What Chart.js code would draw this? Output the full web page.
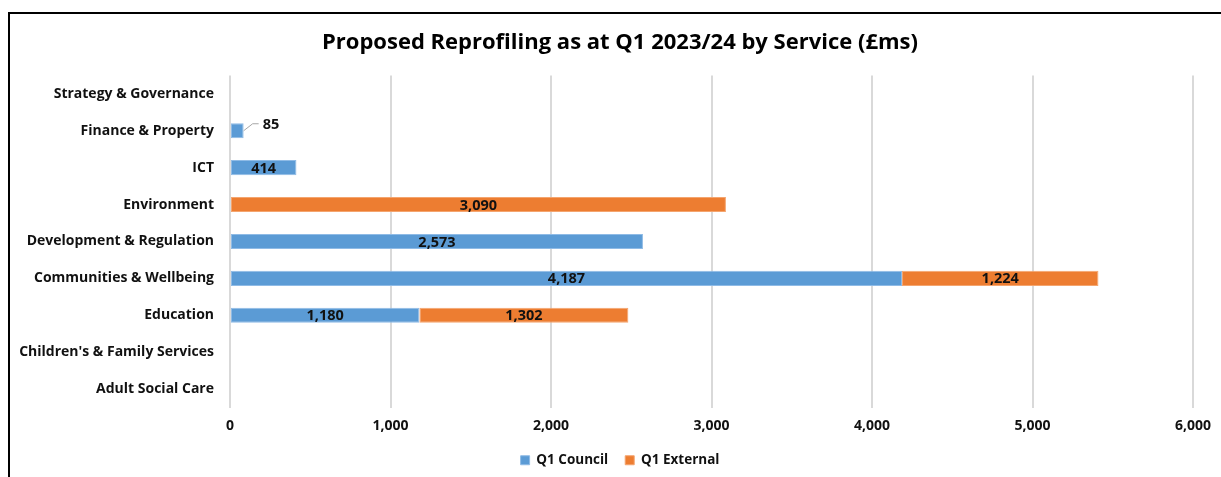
<!DOCTYPE html>
<html>
<head>
<meta charset="utf-8">
<script src="https://cdn.jsdelivr.net/npm/chart.js@4.4.0/dist/chart.umd.min.js"></script>
<style>
  body { margin: 0; background: #fff; overflow: hidden; }
  #frame {
    position: absolute; left: 8px; top: 12px;
    width: 1222px; height: 465px;
    border-left: 2px solid #000; border-top: 2px solid #000;
  }
  #wrap { position: relative; width: 1220px; height: 463px; }
</style>
</head>
<body>
<div id="frame"><div id="wrap"><canvas id="reprofileChart"></canvas></div></div>
<script>
// 서비스 항목 (위에서 아래 순서)
var services = ['Strategy & Governance', 'Finance & Property', 'ICT', 'Environment',
    'Development & Regulation', 'Communities & Wellbeing', 'Education',
    "Children's & Family Services", 'Adult Social Care'];
var councilValues = [0, 85, 414, 0, 2573, 4187, 1180, 0, 0];
var externalValues = [0, 0, 0, 3090, 0, 1224, 1302, 0, 0];
var xTicks = [0, 1000, 2000, 3000, 4000, 5000, 6000];

var fontName = '"Open Sans", Lato, sans-serif';

// 막대 위에 값 표시 (작은 막대는 바깥쪽에 선과 함께)
var valueLabels = {
    id: 'valueLabels',
    afterDatasetsDraw: function(chart) {
        var ctx = chart.ctx;
        ctx.save();
        ctx.font = 'bold 14.5px ' + fontName;
        ctx.fillStyle = '#111';
        ctx.textBaseline = 'middle';
        chart.data.datasets.forEach(function(ds, i) {
            var meta = chart.getDatasetMeta(i);
            meta.data.forEach(function(bar, j) {
                var v = ds.data[j];
                if (!v) return;
                var text = v.toLocaleString('en-GB');
                var w = Math.abs(bar.x - bar.base);
                if (w > 40) {
                    ctx.textAlign = 'center';
                    ctx.fillText(text, (bar.x + bar.base) / 2, bar.y + 1);
                } else {
                    ctx.strokeStyle = '#a6a6a6';
                    ctx.lineWidth = 1;
                    ctx.beginPath();
                    ctx.moveTo(bar.x, bar.y);
                    ctx.lineTo(bar.x + 9, bar.y - 7);
                    ctx.lineTo(bar.x + 15, bar.y - 7);
                    ctx.stroke();
                    ctx.textAlign = 'left';
                    ctx.fillText(text, bar.x + 19, bar.y - 6);
                }
            });
        });
        ctx.restore();
    }
};

var chart = new Chart(document.getElementById('reprofileChart'), {
    type: 'bar',
    data: {
        labels: services,
        datasets: [
            {
                label: 'Q1 Council',
                data: councilValues,
                backgroundColor: '#5b9bd5',
                borderColor: '#8fbbe6',
                borderWidth: 1,
                borderSkipped: false,
                barPercentage: 0.41,
                categoryPercentage: 1
            },
            {
                label: 'Q1 External',
                data: externalValues,
                backgroundColor: '#ed7d31',
                borderColor: '#f4a56f',
                borderWidth: 1,
                borderSkipped: false,
                barPercentage: 0.41,
                categoryPercentage: 1
            }
        ]
    },
    options: {
        indexAxis: 'y',
        responsive: true,
        maintainAspectRatio: false,
        animation: false,
        layout: { padding: 0 },
        plugins: {
            title: {
                display: true,
                text: 'Proposed Reprofiling as at Q1 2023/24 by Service (£ms)',
                color: '#000',
                font: { family: fontName, size: 22, weight: 'bold' },
                padding: { top: 16, bottom: 19 }
            },
            legend: {
                position: 'bottom',
                labels: {
                    color: '#111',
                    font: { family: fontName, size: 13.5, weight: 'bold' },
                    boxWidth: 9,
                    boxHeight: 9,
                    padding: 17
                }
            },
            tooltip: { enabled: false }
        },
        scales: {
            x: {
                stacked: true,
                min: 0,
                max: 6000,
                afterBuildTicks: function(axis) {
                    axis.ticks = xTicks.map(function(v) { return { value: v }; });
                },
                afterFit: function(axis) { axis.height = 29; },
                grid: { color: '#d9d9d9', lineWidth: 2, drawTicks: false },
                border: { display: false },
                ticks: {
                    padding: 10,
                    color: '#111',
                    font: { family: fontName, size: 14, weight: 'bold' },
                    callback: function(v) { return v.toLocaleString('en-GB'); }
                }
            },
            y: {
                stacked: true,
                afterFit: function(axis) { axis.width = 220; },
                grid: { display: false, drawTicks: false },
                border: { display: false },
                ticks: {
                    padding: 16,
                    color: '#111',
                    font: { family: fontName, size: 14, weight: 'bold' }
                }
            },
            // 오른쪽 여백용 빈 축
            yRight: {
                type: 'linear',
                position: 'right',
                afterFit: function(axis) { axis.width = 37; },
                grid: { display: false, drawTicks: false },
                border: { display: false },
                ticks: { display: false }
            }
        }
    },
    plugins: [valueLabels]
});
</script>
</body>
</html>
